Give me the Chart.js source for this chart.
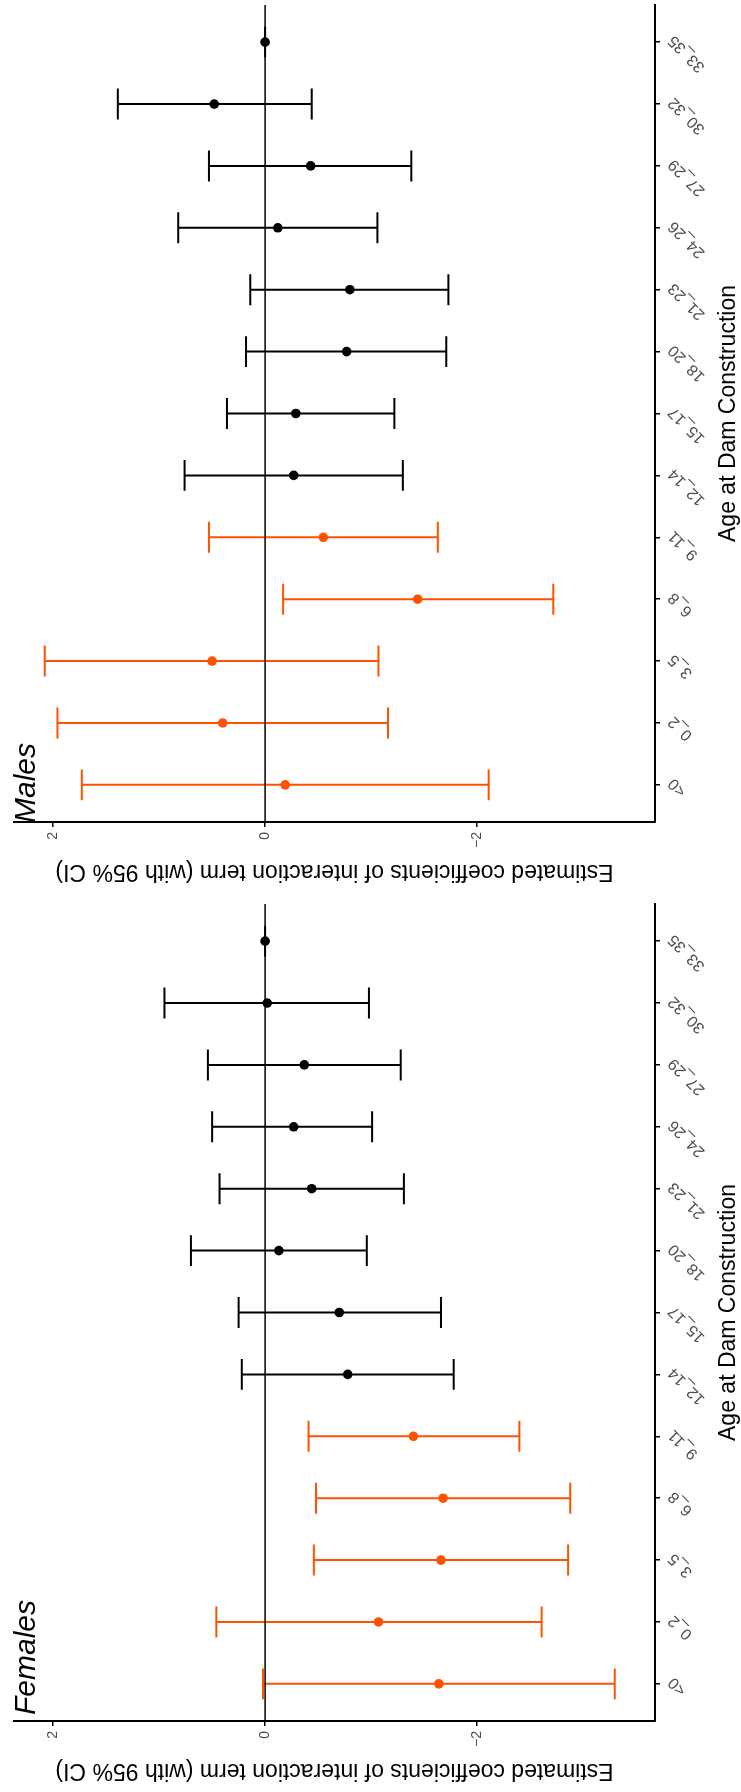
<!DOCTYPE html>
<html>
<head>
<meta charset="utf-8">
<script src="https://cdn.jsdelivr.net/npm/chart.js@4.4.0/dist/chart.umd.min.js"></script>
<style>
  body { margin: 0; background: #fff; }
  #wrap { position: relative; width: 741px; height: 1792px; }
  .panel { position: absolute; left: 0; width: 741px; }
</style>
</head>
<body>
<div id="wrap">
  <div class="panel" style="top:0;height:896px"><canvas id="malesChart" width="741" height="896"></canvas></div>
  <div class="panel" style="top:899px;height:893px"><canvas id="femalesChart" width="741" height="893"></canvas></div>
</div>
<script>
// age groups, bottom to top
var ageGroups = ['<0', '0_2', '3_5', '6_8', '9_11', '12_14', '15_17', '18_20', '21_23', '24_26', '27_29', '30_32', '33_35'];
var earlyGroups = ['<0', '0_2', '3_5', '6_8', '9_11'];
var valueTicks = [-2, 0, 2];

var malesEst   = [-0.19, 0.40, 0.50, -1.44, -0.55, -0.27, -0.29, -0.77, -0.80, -0.12, -0.43, 0.48, 0];
var malesLow   = [-2.11, -1.16, -1.07, -2.72, -1.63, -1.30, -1.22, -1.71, -1.73, -1.06, -1.38, -0.44, 0];
var malesHigh  = [1.73, 1.96, 2.08, -0.17, 0.53, 0.76, 0.36, 0.18, 0.14, 0.82, 0.53, 1.39, 0];

var femalesEst  = [-1.64, -1.07, -1.66, -1.68, -1.40, -0.78, -0.70, -0.13, -0.44, -0.27, -0.37, -0.02, 0];
var femalesLow  = [-3.30, -2.61, -2.86, -2.88, -2.40, -1.78, -1.66, -0.96, -1.31, -1.01, -1.28, -0.98, 0];
var femalesHigh = [0.02, 0.46, -0.46, -0.48, -0.41, 0.22, 0.25, 0.70, 0.43, 0.50, 0.54, 0.95, 0];

var ORANGE = '#ff5200';
var FONT = "'Liberation Sans', Arial, sans-serif";

function populateForestChart(chartId, panelLabel, est, low, high, labelShift) {
    const canvas = document.getElementById(chartId);
    const ctx = canvas.getContext('2d');
    const colors = ageGroups.map(g => earlyGroups.includes(g) ? ORANGE : '#000');

    const errorBars = {
        id: 'errorBars',
        beforeDatasetsDraw(chart) {
            const c = chart.ctx, x = chart.scales.x, y = chart.scales.y, area = chart.chartArea;
            c.save();
            c.lineWidth = 2;
            low.forEach((lo, i) => {
                const py = y.getPixelForValue(i);
                const capA = y.getPixelForValue(i + 0.25), capB = y.getPixelForValue(i - 0.25);
                c.strokeStyle = colors[i];
                c.beginPath();
                c.moveTo(x.getPixelForValue(lo), py);
                c.lineTo(x.getPixelForValue(high[i]), py);
                [lo, high[i]].forEach(v => {
                    const px = x.getPixelForValue(v);
                    c.moveTo(px, capA);
                    c.lineTo(px, capB);
                });
                c.stroke();
            });
            // reference line at zero
            const zx = x.getPixelForValue(0);
            c.strokeStyle = '#000';
            c.lineWidth = 1.5;
            c.beginPath();
            c.moveTo(zx, area.top);
            c.lineTo(zx, area.bottom);
            c.stroke();
            c.restore();
        }
    };

    const labels = {
        id: 'labels',
        afterDraw(chart) {
            const c = chart.ctx, x = chart.scales.x, y = chart.scales.y, area = chart.chartArea;
            c.save();
            // value tick labels
            c.fillStyle = '#4d4d4d';
            c.font = '14px ' + FONT;
            c.textAlign = 'right';
            c.textBaseline = 'middle';
            valueTicks.forEach(v => {
                c.save();
                c.translate(x.getPixelForValue(v), area.bottom + 10);
                c.rotate(-Math.PI / 2);
                c.fillText(String(v).replace('-', '\u2212'), 0, 0);
                c.restore();
            });
            // age group labels
            c.font = '16px ' + FONT;
            ageGroups.forEach((g, i) => {
                c.save();
                c.translate(area.right + 16, y.getPixelForValue(i) - 4);
                c.rotate(-Math.PI * 3 / 4);
                c.fillText(g, 0, 0);
                c.restore();
            });
            // axis titles
            c.fillStyle = '#000';
            c.font = '23px ' + FONT;
            c.textAlign = 'center';
            c.save();
            c.translate((area.left + area.right) / 2, area.bottom + 49);
            c.rotate(Math.PI);
            c.fillText('Estimated coefficients of interaction term (with 95% CI)', 0, 0);
            c.restore();
            c.save();
            c.translate(735, (area.top + area.bottom) / 2);
            c.rotate(-Math.PI / 2);
            c.textBaseline = 'alphabetic';
            c.fillText('Age at Dam Construction', 0, 0);
            c.restore();
            // panel label
            c.save();
            c.font = 'italic 30px ' + FONT;
            c.textAlign = 'left';
            c.textBaseline = 'alphabetic';
            c.translate(35, area.bottom + labelShift);
            c.rotate(-Math.PI / 2);
            c.fillText(panelLabel, 0, 0);
            c.restore();
            c.restore();
        }
    };

    new Chart(ctx, {
        type: 'scatter',
        data: {
            datasets: [{
                data: est.map((v, i) => ({x: v, y: i})),
                pointBackgroundColor: colors,
                pointBorderColor: colors,
                pointBorderWidth: 0,
                pointRadius: 4.8
            }]
        },
        options: {
            responsive: false,
            animation: false,
            events: [],
            layout: {
                padding: {left: 14, top: 5, right: 81, bottom: canvas.height - 827}
            },
            plugins: {
                legend: {display: false},
                tooltip: {enabled: false}
            },
            scales: {
                x: {
                    type: 'linear',
                    reverse: true,
                    min: -3.68,
                    max: 2.37,
                    afterBuildTicks: s => { s.ticks = valueTicks.map(v => ({value: v})); },
                    ticks: {display: false},
                    grid: {display: true, drawOnChartArea: false, drawTicks: true, tickLength: 5, color: '#000', lineWidth: 1.5},
                    border: {display: true, color: '#000', width: 2}
                },
                y: {
                    type: 'linear',
                    position: 'right',
                    min: -0.6,
                    max: ageGroups.length - 0.4,
                    afterBuildTicks: s => { s.ticks = ageGroups.map((g, i) => ({value: i})); },
                    ticks: {display: false},
                    grid: {display: true, drawOnChartArea: false, drawTicks: true, tickLength: 5, color: '#000', lineWidth: 1.5},
                    border: {display: true, color: '#000', width: 2}
                }
            }
        },
        plugins: [errorBars, labels]
    });
}

populateForestChart('malesChart', 'Males', malesEst, malesLow, malesHigh, 1);
populateForestChart('femalesChart', 'Females', femalesEst, femalesLow, femalesHigh, -6);
</script>
</body>
</html>
